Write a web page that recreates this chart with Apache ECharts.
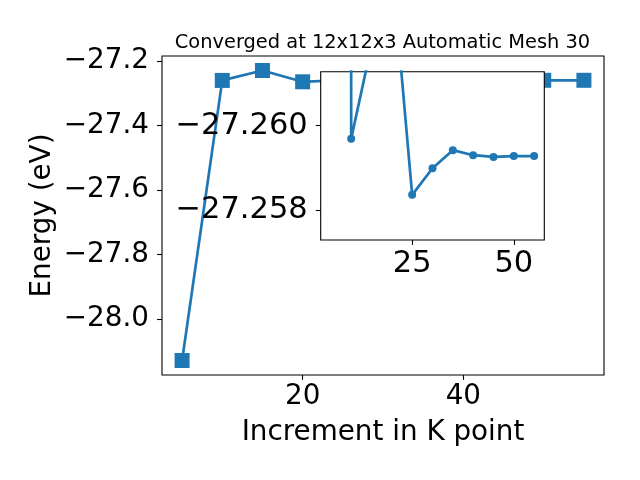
<!DOCTYPE html>
<html><head><meta charset="utf-8">
<script src="https://cdn.jsdelivr.net/npm/echarts@6/dist/echarts.min.js"></script>
<style>html,body{margin:0;padding:0;background:#fff}#c{width:640px;height:480px}</style>
</head><body><div id="c"></div>
<script>
const kpoints = [5, 10, 15, 20, 25, 30, 35, 40, 45, 50, 55];
const energyMain = [-28.128, -27.2597, -27.229, -27.264, -27.2584, -27.2590, -27.2594, -27.2593, -27.2593, -27.2593, -27.2593];
const energyInset = [-28.128, -27.25969, -27.26191, -27.26383, -27.25836, -27.25899, -27.25942, -27.25930, -27.25926, -27.25928, -27.25928];
const mainXTicks = [20, 40];
const mainYTicks = [-28.0, -27.8, -27.6, -27.4, -27.2];
const insetXTicks = [25, 50];
const insetYTicks = [-27.260, -27.258];

const FONT = 'DejaVu Sans';
const BLUE = '#1f77b4';
const minus = (v, d) => (v < 0 ? '\u2212' : '') + Math.abs(v).toFixed(d);

const chart = echarts.init(document.getElementById('c'));
chart.setOption({
  animation: false,
  backgroundColor: '#fff',
  title: {
    text: 'Converged at 12x12x3 Automatic Mesh 30',
    left: 377.5, top: 28, textAlign: 'center',
    textStyle: { fontFamily: FONT, fontSize: 19.4, fontWeight: 'normal', color: '#000' }
  },
  grid: [
    { left: 162, top: 56, width: 442, height: 319, show: true, backgroundColor: '#fff', borderColor: '#000', borderWidth: 1.1, z: 0 },
    { left: 320.7, top: 71.7, width: 223.6, height: 168.3, show: true, backgroundColor: '#fff', borderColor: '#000', borderWidth: 1.1, z: 10 }
  ],
  xAxis: [
    {
      type: 'value', gridIndex: 0, min: 2.5, max: 57.5,
      name: 'Increment in K point', nameLocation: 'middle', nameGap: 44, nameMoveOverlap: false,
      nameTextStyle: { fontFamily: FONT, fontSize: 27.8, color: '#000' },
      axisLine: { show: false }, splitLine: { show: false },
      axisTick: { show: true, length: 4.9, customValues: mainXTicks, lineStyle: { color: '#000', width: 1.1 } },
      axisLabel: { customValues: mainXTicks, margin: 8, fontFamily: FONT, fontSize: 27.8, color: '#000' }
    },
    {
      type: 'value', gridIndex: 1, min: 2.5, max: 57.5, z: 12,
      axisLine: { show: false }, splitLine: { show: false },
      axisTick: { show: true, length: 4.9, customValues: insetXTicks, lineStyle: { color: '#000', width: 1.1 } },
      axisLabel: { customValues: insetXTicks, margin: 9, fontFamily: FONT, fontSize: 30.5, color: '#000' }
    }
  ],
  yAxis: [
    {
      type: 'value', gridIndex: 0, min: -28.173, max: -27.184,
      name: 'Energy (eV)', nameLocation: 'middle', nameGap: 105, nameMoveOverlap: false,
      nameTextStyle: { fontFamily: FONT, fontSize: 27.8, color: '#000' },
      axisLine: { show: false }, splitLine: { show: false },
      axisTick: { show: true, length: 4.9, customValues: mainYTicks, lineStyle: { color: '#000', width: 1.1 } },
      axisLabel: { customValues: mainYTicks, margin: 13, fontFamily: FONT, fontSize: 27.8, color: '#000', formatter: v => minus(v, 1) }
    },
    {
      type: 'value', gridIndex: 1, min: -27.26128, max: -27.25729, inverse: true, z: 12,
      axisLine: { show: false }, splitLine: { show: false },
      axisTick: { show: true, length: 4.9, customValues: insetYTicks, lineStyle: { color: '#000', width: 1.1 } },
      axisLabel: { customValues: insetYTicks, margin: 13, fontFamily: FONT, fontSize: 30.5, color: '#000', formatter: v => minus(v, 3) }
    }
  ],
  series: [
    {
      type: 'line', xAxisIndex: 0, yAxisIndex: 0, z: 2,
      data: kpoints.map((k, i) => [k, energyMain[i]]),
      symbol: 'rect', symbolSize: 15,
      lineStyle: { color: BLUE, width: 2.7 },
      itemStyle: { color: BLUE, borderWidth: 0 }
    },
    {
      type: 'line', xAxisIndex: 1, yAxisIndex: 1, z: 11, clip: true,
      data: kpoints.map((k, i) => [k, energyInset[i]]),
      symbol: 'circle', symbolSize: 8,
      lineStyle: { color: BLUE, width: 2.7 },
      itemStyle: { color: BLUE, borderWidth: 0 }
    }
  ]
});
</script>
</body></html>
